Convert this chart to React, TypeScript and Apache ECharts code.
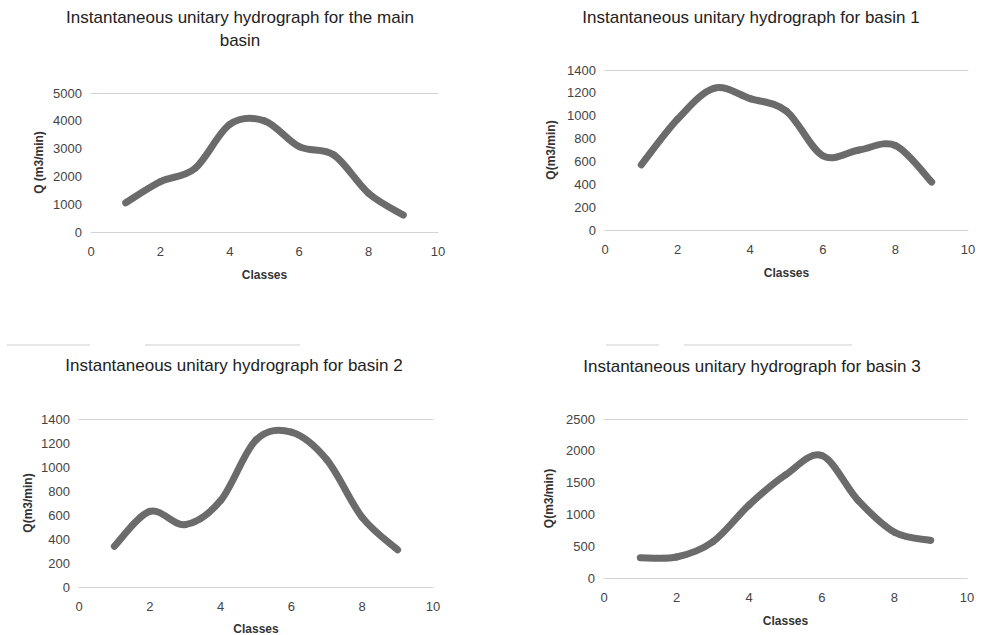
import React, { useEffect, useRef } from "react";
import * as echarts from "echarts";

const classes = [1, 2, 3, 4, 5, 6, 7, 8, 9];
const mainBasin = [1050, 1810, 2290, 3870, 4000, 3070, 2770, 1390, 610];
const basin1 = [570, 970, 1240, 1150, 1040, 650, 700, 740, 420];
const basin2 = [340, 630, 520, 720, 1225, 1290, 1060, 580, 310];
const basin3 = [320, 330, 570, 1150, 1620, 1925, 1220, 720, 590];

const titles = [
  "Instantaneous unitary hydrograph for the main\nbasin",
  "Instantaneous unitary hydrograph for basin 1",
  "Instantaneous unitary hydrograph for basin 2",
  "Instantaneous unitary hydrograph for basin 3",
];
const yNames = ["Q (m3/min)", "Q(m3/min)", "Q(m3/min)", "Q(m3/min)"];
const xName = "Classes";
const yMax = [5000, 1400, 1400, 2500];
const yStep = [1000, 200, 200, 500];
const seriesData = [mainBasin, basin1, basin2, basin3];

const FONT = "'Liberation Sans', Arial, sans-serif";

export default function App() {
  const ref = useRef<HTMLDivElement>(null);
  useEffect(() => {
    if (!ref.current) return;
    const chart = echarts.init(ref.current, null, { renderer: "svg" });

    const grids = [
      { left: 91, top: 93, width: 347, height: 139 },
      { left: 605, top: 70, width: 363, height: 160 },
      { left: 79, top: 419, width: 354, height: 168 },
      { left: 604, top: 419, width: 363, height: 159 },
    ];
    const titlePos = [
      { x: 240, y: 29 },
      { x: 751, y: 17 },
      { x: 234, y: 365 },
      { x: 752, y: 366 },
    ];
    const xNameGap = [37, 37, 36, 37];
    const yNameGap = [46, 48, 45, 49];

    const xAxes: any[] = [];
    const yAxes: any[] = [];
    const series: any[] = [];
    grids.forEach((g, i) => {
      xAxes.push({
        type: "value",
        gridIndex: i,
        min: 0,
        max: 10,
        interval: 2,
        position: "bottom",
        name: xName,
        nameLocation: "middle",
        nameGap: xNameGap[i],
        nameTextStyle: { fontFamily: FONT, fontSize: 12, fontWeight: "bold", color: "#333" },
        axisLine: { show: true, lineStyle: { color: "#d4d4d4", width: 1 } },
        axisTick: { show: false },
        splitLine: { show: false },
        axisLabel: { fontFamily: FONT, fontSize: 13, color: "#444", margin: 13, formatter: (v: number) => String(v) },
      });
      xAxes.push({
        type: "value",
        gridIndex: i,
        min: 0,
        max: 10,
        position: "top",
        axisLine: { show: true, lineStyle: { color: "#d4d4d4", width: 1 } },
        axisTick: { show: false },
        axisLabel: { show: false },
        splitLine: { show: false },
      });
      yAxes.push({
        type: "value",
        gridIndex: i,
        min: 0,
        max: yMax[i],
        interval: yStep[i],
        name: yNames[i],
        nameLocation: "middle",
        nameGap: yNameGap[i],
        nameTextStyle: { fontFamily: FONT, fontSize: 12, fontWeight: "bold", color: "#333" },
        axisLine: { show: false },
        axisTick: { show: false },
        splitLine: { show: false },
        axisLabel: { fontFamily: FONT, fontSize: 13, color: "#444", margin: 9, formatter: (v: number) => String(v) },
      });
      const vals = seriesData[i];
      series.push({
        type: "custom",
        coordinateSystem: "cartesian2d",
        xAxisIndex: i * 2,
        yAxisIndex: i,
        encode: { x: 0, y: 1 },
        clip: false,
        data: classes.map((c, k) => [c, vals[k]]),
        renderItem: (params: any, api: any) => {
          const k = params.dataIndex;
          const n = classes.length;
          if (k >= n - 1) return null;
          const pt = (j: number) => {
            const jj = Math.max(0, Math.min(n - 1, j));
            return api.coord([classes[jj], vals[jj]]);
          };
          const p0 = pt(k - 1);
          const p1 = pt(k);
          const p2 = pt(k + 1);
          const p3 = pt(k + 2);
          const t = 1 / 6;
          return {
            type: "bezierCurve",
            shape: {
              x1: p1[0],
              y1: p1[1],
              x2: p2[0],
              y2: p2[1],
              cpx1: p1[0] + (p2[0] - p0[0]) * t,
              cpy1: p1[1] + (p2[1] - p0[1]) * t,
              cpx2: p2[0] - (p3[0] - p1[0]) * t,
              cpy2: p2[1] - (p3[1] - p1[1]) * t,
            },
            style: { stroke: "#6b6b6b", lineWidth: 7, lineCap: "round", fill: null },
          };
        },
      });
    });

    const graphics: any[] = titles.map((t, i) => ({
      type: "text",
      x: titlePos[i].x,
      y: titlePos[i].y,
      style: {
        text: t,
        fontFamily: FONT,
        fontSize: 17,
        lineHeight: 23,
        fill: "#222",
        align: "center",
        verticalAlign: "middle",
      },
    }));
    const faint = [
      [7, 90],
      [145, 300],
      [606, 659],
      [684, 852],
    ];
    faint.forEach(([a, b]) => {
      graphics.push({
        type: "line",
        shape: { x1: a, y1: 345, x2: b, y2: 345 },
        style: { stroke: "#cfcfcf", lineWidth: 1 },
      });
    });

    chart.setOption({
      animation: false,
      backgroundColor: "#ffffff",
      grid: grids.map((g) => ({ ...g, containLabel: false, outerBoundsMode: "none" })),
      xAxis: xAxes,
      yAxis: yAxes,
      series,
      graphic: graphics,
    });
    return () => chart.dispose();
  }, []);

  return (
    <div
      ref={ref}
      style={{ position: "fixed", left: 0, top: 0, width: 983, height: 635, background: "#fff" }}
    />
  );
}
